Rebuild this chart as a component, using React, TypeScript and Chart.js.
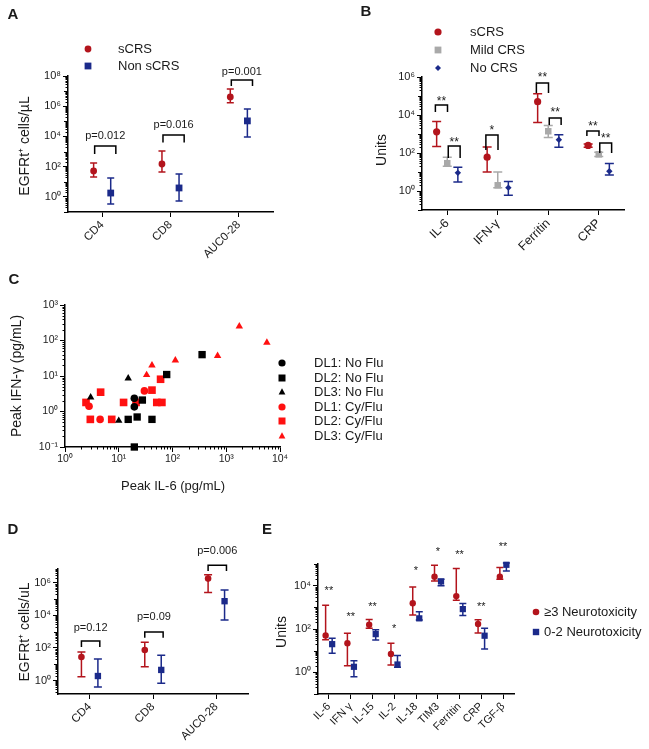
import React, { useEffect, useRef } from 'react';
import { Chart, registerables } from 'chart.js';

Chart.register(...registerables);

const FONT = "'Liberation Sans', Arial, Helvetica, sans-serif";
const RED = '#B3141C';
const BLUE = '#1B2A8A';
const GRAY = '#A9A9A9';
const CRED = '#FF1010';
const INK = '#1a1a1a';

// ---------- Panel A ----------
const catsA = ['CD4', 'CD8', 'AUC0-28'];
const aSevere = [52, 150, 4.1e6];
const aSevereLow = [21, 45, 1.7e6];
const aSevereHigh = [175, 1100, 1.4e7];
const aNon = [1.8, 3.9, 1.07e5];
const aNonLow = [0.34, 0.54, 9300];
const aNonHigh = [18, 33, 6.6e5];
const aPLabels = ['p=0.012', 'p=0.016', 'p=0.001'];
const aBracketTop = [2300, 12600, 5.5e7];
const aBracketLeg = [690, 3900, 2.2e7];
const aPTextY = [10700, 58000, 1.96e8];
const aTicks = [1, 1e2, 1e4, 1e6, 1e8];

// ---------- Panel B ----------
const catsB = ['IL-6', 'IFN-γ', 'Ferritin', 'CRP'];
const bSevere = [1300, 60, 50000, 250];
const bSevereLow = [220, 10, 4000, 200];
const bSevereHigh = [4500, 210, 130000, 300];
const bMild = [29, 2, 1400, 85];
const bMildLow = [20, 1.5, 650, 65];
const bMildHigh = [60, 10, 2800, 110];
const bNo = [9, 1.5, 500, 11];
const bNoLow = [3, 0.6, 200, 7];
const bNoHigh = [18, 3.2, 900, 28];
const bBracketCat = [0, 0, 1, 2, 2, 3, 3];
const bBracketPair = ['rm', 'mn', 'rm', 'rm', 'mn', 'rm', 'mn'];
const bBracketTop = [33700, 234, 890, 480000, 6900, 1440, 335];
const bBracketLeg = [14400, 55, 144, 144000, 2970, 780, 100];
const bBracketText = ['**', '**', '*', '**', '**', '**', '**'];
const bBracketTextY = [69000, 480, 2080, 1.27e6, 18300, 3360, 780];
const bTicks = [1, 1e2, 1e4, 1e6];

// ---------- Panel C ----------
const cDL1NoFlu = [[19.5, 2.35], [19.5, 1.35]];
const cDL2NoFlu = [[15, 0.6], [19.5, 0.1], [22, 0.7], [27.5, 2.1], [41.5, 0.6], [78, 11], [355, 40]];
const cDL3NoFlu = [[3.0, 2.5], [10, 0.55], [15, 8.6]];
const cDL1CyFlu = [[2.8, 1.4], [4.5, 0.6], [30, 3.8]];
const cDL2CyFlu = [[2.46, 1.8], [2.96, 0.6], [4.6, 3.5], [7.4, 0.6], [12.3, 1.8], [21, 1.8], [41.5, 4.0], [51, 1.8], [63.5, 1.8], [60, 8.1]];
const cDL3CyFlu = [[33, 10.7], [41.5, 20], [113, 27.5], [690, 37], [1750, 250], [5700, 87]];
const cGroupLabels = ['DL1: No Flu', 'DL2: No Flu', 'DL3: No Flu', 'DL1: Cy/Flu', 'DL2: Cy/Flu', 'DL3: Cy/Flu'];
const cXTicks = [1, 10, 100, 1000, 10000];
const cYTicks = [0.1, 1, 10, 100, 1000];

// ---------- Panel D ----------
const catsD = ['CD4', 'CD8', 'AUC0-28'];
const dSevere = [28, 75, 1.8e6];
const dSevereLow = [1.7, 7.1, 2.5e5];
const dSevereHigh = [57, 224, 3.1e6];
const dNon = [1.9, 4.5, 7.4e4];
const dNonLow = [0.41, 0.68, 5200];
const dNonHigh = [21, 36, 3.6e5];
const dPLabels = ['p=0.12', 'p=0.09', 'p=0.006'];
const dBracketTop = [270, 955, 1.2e7];
const dBracketLeg = [115, 430, 5.3e6];
const dPTextY = [1700, 8000, 9e7];
const dTicks = [1, 1e2, 1e4, 1e6];

// ---------- Panel E ----------
const catsE = ['IL-6', 'IFN γ', 'IL-15', 'IL-2', 'IL-18', 'TIM3', 'Ferritin', 'CRP', 'TGF-β'];
const eHigh3 = [50, 22, 156, 7, 1550, 25700, 3300, 170, 25600];
const eHigh3Low = [32, 2, 107, 2.2, 440, 16600, 2150, 65, 20000];
const eHigh3High = [1250, 63, 275, 22, 8700, 87000, 62000, 265, 69000];
const eLow02 = [20, 1.8, 58, 2.3, 310, 15600, 830, 49, 92000];
const eLow02Low = [7.5, 0.63, 31, 1.7, 257, 9800, 425, 12, 48000];
const eLow02High = [37, 3.4, 92, 6, 620, 20000, 1500, 107, 112000];
const eStars = ['**', '**', '**', '*', '*', '*', '**', '**', '**'];
const eStarY = [7600, 450, 1400, 130, 62000, 480000, 340000, 1300, 8e5];
const eTicks = [1, 1e2, 1e4];

// ---------- helpers ----------
const SUP = '⁰¹²³⁴⁵⁶⁷⁸⁹';
const sup = (n: number) => String(n).split('').map(c => (c === '-' ? '⁻' : SUP[+c])).join('');
const powLabel = (v: number) => '10' + sup(Math.round(Math.log10(v)));

function drawMarker(ctx: CanvasRenderingContext2D, style: string, x: number, y: number, r: number, color: string) {
  ctx.save();
  ctx.fillStyle = color;
  ctx.beginPath();
  if (style === 'circle') {
    ctx.arc(x, y, r, 0, Math.PI * 2);
  } else if (style === 'rect') {
    ctx.rect(x - r, y - r, 2 * r, 2 * r);
  } else if (style === 'triangle') {
    ctx.moveTo(x, y - r * 1.1);
    ctx.lineTo(x + r, y + r * 0.7);
    ctx.lineTo(x - r, y + r * 0.7);
    ctx.closePath();
  } else if (style === 'rectRot') {
    ctx.moveTo(x, y - r);
    ctx.lineTo(x + r, y);
    ctx.lineTo(x, y + r);
    ctx.lineTo(x - r, y);
    ctx.closePath();
  }
  ctx.fill();
  ctx.restore();
}

function drawText(
  ctx: CanvasRenderingContext2D, s: string, x: number, y: number, size: number,
  o: { align?: CanvasTextAlign; bold?: boolean; rotate?: boolean; baseline?: CanvasTextBaseline } = {}
) {
  ctx.save();
  ctx.font = `${o.bold ? 'bold ' : ''}${size}px ${FONT}`;
  ctx.fillStyle = INK;
  ctx.textAlign = o.align || 'center';
  ctx.textBaseline = o.baseline || 'middle';
  ctx.translate(x, y);
  if (o.rotate) ctx.rotate(-Math.PI / 2);
  ctx.fillText(s, 0, 0);
  ctx.restore();
}

function minorTicks(ctx: CanvasRenderingContext2D, scale: any, horizontal: boolean, majors: number[], edge: number) {
  const min = scale.min, max = scale.max;
  const d0 = Math.floor(Math.log10(min)), d1 = Math.ceil(Math.log10(max));
  ctx.save();
  ctx.strokeStyle = '#000';
  ctx.lineWidth = 1;
  for (let d = d0; d <= d1; d++) {
    for (let m = 1; m <= 9; m++) {
      const v = m * Math.pow(10, d);
      if (v < min * 0.9999 || v > max * 1.0001) continue;
      if (majors.some(mj => Math.abs(mj - v) / v < 1e-6)) continue;
      const len = m === 1 ? 4 : 2.5;
      const p = Math.round(scale.getPixelForValue(v)) + 0.5;
      ctx.beginPath();
      if (horizontal) { ctx.moveTo(p, edge); ctx.lineTo(p, edge + len); }
      else { ctx.moveTo(edge, p); ctx.lineTo(edge - len, p); }
      ctx.stroke();
    }
  }
  ctx.restore();
}

type Series = { values: number[]; low: number[]; high: number[]; offset: number; color: string; style: string; radius: number; cap: number };
type Bracket = { cat: number; from: number; to: number; top: number; leg: number; text: string; textY: number; star: boolean };
type LegendItem = { label: string; y: number; color: string; style: string; r: number };
type Plot = { l: number; t: number; r: number; b: number };

type CatPanel = {
  cats: string[];
  series: Series[];
  brackets: Bracket[];
  stars: { cat: number; text: string; y: number }[];
  yMin: number; yMax: number; majors: number[];
  plot: Plot;
  xFont: number; yFont: number; annFont: number; starFont: number;
  yTitle: { text: string; x: number; y: number; size: number };
  letter: { text: string; x: number; y: number };
  legend: { markerX: number; textX: number; size: number; items: LegendItem[] };
};

const W_AXIS = 60;
const H_AXIS = 55;

function axisCommon(fontSize: number) {
  return {
    grid: { drawOnChartArea: false, drawTicks: true, tickLength: 5, color: '#000', lineWidth: 1 },
    border: { display: true, color: '#000', width: 1.5 },
    ticks: { font: { size: fontSize, family: FONT }, color: INK },
  };
}

function catConfig(p: CatPanel): any {
  const datasets = p.series.map(s => ({
    type: 'scatter',
    data: s.values.map((v, i) => ({ x: i + s.offset, y: v })),
    pointStyle: s.style,
    pointRadius: s.radius,
    pointHoverRadius: s.radius,
    backgroundColor: s.color,
    borderColor: s.color,
    borderWidth: 0,
    clip: false,
    showLine: false,
  }));
  const plugin = {
    id: 'annotCat',
    beforeDatasetsDraw(chart: any) {
      const ctx = chart.ctx as CanvasRenderingContext2D;
      const xs = chart.scales.x, ys = chart.scales.y;
      ctx.save();
      ctx.lineWidth = 1.5;
      p.series.forEach(s => {
        ctx.strokeStyle = s.color;
        s.values.forEach((_, i) => {
          const x = xs.getPixelForValue(i + s.offset);
          const yl = ys.getPixelForValue(s.low[i]);
          const yh = ys.getPixelForValue(s.high[i]);
          ctx.beginPath();
          ctx.moveTo(x, yl); ctx.lineTo(x, yh);
          ctx.moveTo(x - s.cap, yl); ctx.lineTo(x + s.cap, yl);
          ctx.moveTo(x - s.cap, yh); ctx.lineTo(x + s.cap, yh);
          ctx.stroke();
        });
      });
      ctx.restore();
    },
    afterDraw(chart: any) {
      const ctx = chart.ctx as CanvasRenderingContext2D;
      const xs = chart.scales.x, ys = chart.scales.y;
      minorTicks(ctx, ys, false, p.majors, chart.chartArea.left);
      ctx.save();
      ctx.strokeStyle = '#000';
      ctx.lineWidth = 1.5;
      p.brackets.forEach(b => {
        const x1 = xs.getPixelForValue(b.cat + b.from);
        const x2 = xs.getPixelForValue(b.cat + b.to);
        const yt = ys.getPixelForValue(b.top);
        const yl = ys.getPixelForValue(b.leg);
        ctx.beginPath();
        ctx.moveTo(x1, yl); ctx.lineTo(x1, yt); ctx.lineTo(x2, yt); ctx.lineTo(x2, yl);
        ctx.stroke();
        const ty = ys.getPixelForValue(b.textY);
        if (b.star) drawText(ctx, b.text, (x1 + x2) / 2, ty + p.starFont * 0.5, p.starFont, { baseline: 'alphabetic' });
        else drawText(ctx, b.text, (x1 + x2) / 2, ty, p.annFont);
      });
      ctx.restore();
      p.stars.forEach(s => {
        const x = xs.getPixelForValue(s.cat);
        const y = ys.getPixelForValue(s.y);
        drawText(ctx, s.text, x, y + p.starFont * 0.5, p.starFont, { baseline: 'alphabetic' });
      });
      drawText(ctx, p.yTitle.text, p.yTitle.x, p.yTitle.y, p.yTitle.size, { rotate: true });
      drawText(ctx, p.letter.text, p.letter.x, p.letter.y, 15, { bold: true });
      p.legend.items.forEach(it => {
        drawMarker(ctx, it.style, p.legend.markerX, it.y, it.r, it.color);
        drawText(ctx, it.label, p.legend.textX, it.y, p.legend.size, { align: 'left' });
      });
    },
  };
  const xc = axisCommon(p.xFont);
  const yc = axisCommon(p.yFont);
  return {
    type: 'scatter',
    data: { datasets },
    plugins: [plugin],
    options: {
      responsive: false,
      animation: false,
      events: [],
      layout: { padding: { left: p.plot.l - W_AXIS, top: p.plot.t, right: 649 - p.plot.r, bottom: 749 - p.plot.b - H_AXIS } },
      plugins: { legend: { display: false }, tooltip: { enabled: false } },
      scales: {
        x: {
          type: 'linear', min: -0.5, max: p.cats.length - 0.5,
          afterBuildTicks: (s: any) => { s.ticks = p.cats.map((_, i) => ({ value: i })); },
          afterFit: (s: any) => { s.height = H_AXIS; },
          grid: xc.grid, border: xc.border,
          ticks: { ...xc.ticks, callback: (v: any) => p.cats[Math.round(v)] ?? '', minRotation: 45, maxRotation: 45, autoSkip: false, padding: 1 },
        },
        y: {
          type: 'logarithmic', min: p.yMin, max: p.yMax,
          afterBuildTicks: (s: any) => { s.ticks = p.majors.map(v => ({ value: v, major: true })); },
          afterFit: (s: any) => { s.width = W_AXIS; },
          grid: yc.grid, border: yc.border,
          ticks: { ...yc.ticks, callback: (v: any) => powLabel(v), autoSkip: false, padding: 2 },
        },
      },
    },
  };
}

const toPts = (arr: number[][]) => arr.map(([x, y]) => ({ x, y }));

function scatterConfigC(): any {
  const plot: Plot = { l: 65, t: 305, r: 280, b: 447 };
  const groups = [
    { data: cDL1NoFlu, color: '#000', style: 'circle', r: 3.8, lr: 3.6 },
    { data: cDL2NoFlu, color: '#000', style: 'rect', r: 5.2, lr: 3.5 },
    { data: cDL3NoFlu, color: '#000', style: 'triangle', r: 4.3, lr: 3.4 },
    { data: cDL1CyFlu, color: CRED, style: 'circle', r: 3.8, lr: 3.6 },
    { data: cDL2CyFlu, color: CRED, style: 'rect', r: 5.4, lr: 3.5 },
    { data: cDL3CyFlu, color: CRED, style: 'triangle', r: 4.3, lr: 3.4 },
  ];
  const legendY = [363, 378, 392, 407, 421, 436];
  const datasets = groups.map(g => ({
    type: 'scatter',
    data: toPts(g.data),
    pointStyle: g.style,
    pointRadius: g.r,
    pointHoverRadius: g.r,
    backgroundColor: g.color,
    borderColor: g.color,
    borderWidth: 0,
    clip: false,
  }));
  const plugin = {
    id: 'annotC',
    afterDraw(chart: any) {
      const ctx = chart.ctx as CanvasRenderingContext2D;
      const ca = chart.chartArea;
      minorTicks(ctx, chart.scales.y, false, cYTicks, ca.left);
      minorTicks(ctx, chart.scales.x, true, cXTicks, ca.bottom);
      drawText(ctx, 'Peak IFN-γ (pg/mL)', 17, 376, 14, { rotate: true });
      drawText(ctx, 'Peak IL-6 (pg/mL)', 173, 486, 13);
      drawText(ctx, 'C', 14, 280, 15, { bold: true });
      groups.forEach((g, i) => {
        drawMarker(ctx, g.style, 282, legendY[i], g.lr, g.color);
        drawText(ctx, cGroupLabels[i], 314, legendY[i], 13, { align: 'left' });
      });
    },
  };
  const c = axisCommon(10.5);
  return {
    type: 'scatter',
    data: { datasets },
    plugins: [plugin],
    options: {
      responsive: false,
      animation: false,
      events: [],
      layout: { padding: { left: plot.l - W_AXIS, top: plot.t, right: 649 - plot.r, bottom: 749 - plot.b - H_AXIS } },
      plugins: { legend: { display: false }, tooltip: { enabled: false } },
      scales: {
        x: {
          type: 'logarithmic', min: 1, max: 10000,
          afterBuildTicks: (s: any) => { s.ticks = cXTicks.map(v => ({ value: v, major: true })); },
          afterFit: (s: any) => { s.height = H_AXIS; },
          grid: c.grid, border: c.border,
          ticks: { ...c.ticks, callback: (v: any) => powLabel(v), maxRotation: 0, minRotation: 0, autoSkip: false, padding: 1 },
        },
        y: {
          type: 'logarithmic', min: 0.1, max: 1000,
          afterBuildTicks: (s: any) => { s.ticks = cYTicks.map(v => ({ value: v, major: true })); },
          afterFit: (s: any) => { s.width = W_AXIS; },
          grid: c.grid, border: c.border,
          ticks: { ...c.ticks, callback: (v: any) => powLabel(v), autoSkip: false, padding: 2 },
        },
      },
    },
  };
}

function configA() {
  return catConfig({
    cats: catsA,
    series: [
      { values: aSevere, low: aSevereLow, high: aSevereHigh, offset: -0.125, color: RED, style: 'circle', radius: 3.4, cap: 3.5 },
      { values: aNon, low: aNonLow, high: aNonHigh, offset: 0.125, color: BLUE, style: 'rect', radius: 4.8, cap: 3.5 },
    ],
    brackets: catsA.map((_, i) => ({ cat: i, from: -0.11, to: 0.2, top: aBracketTop[i], leg: aBracketLeg[i], text: aPLabels[i], textY: aPTextY[i], star: false })),
    stars: [],
    yMin: 0.1, yMax: 1e8, majors: aTicks,
    plot: { l: 68, t: 76, r: 273, b: 212 },
    xFont: 11.5, yFont: 11, annFont: 11, starFont: 12,
    yTitle: { text: 'EGFRt⁺ cells/µL', x: 25, y: 146, size: 14 },
    letter: { text: 'A', x: 13, y: 15 },
    legend: {
      markerX: 88, textX: 118, size: 13,
      items: [
        { label: 'sCRS', y: 49, color: RED, style: 'circle', r: 3.4 },
        { label: 'Non sCRS', y: 66, color: BLUE, style: 'rect', r: 3.4 },
      ],
    },
  });
}

function configB() {
  const pairs: Record<string, [number, number]> = { rm: [-0.235, 0.005], mn: [0.02, 0.255] };
  return catConfig({
    cats: catsB,
    series: [
      { values: bSevere, low: bSevereLow, high: bSevereHigh, offset: -0.21, color: RED, style: 'circle', radius: 3.6, cap: 4.5 },
      { values: bMild, low: bMildLow, high: bMildHigh, offset: 0, color: GRAY, style: 'rect', radius: 4.6, cap: 4.5 },
      { values: bNo, low: bNoLow, high: bNoHigh, offset: 0.21, color: BLUE, style: 'rectRot', radius: 3.2, cap: 4.5 },
    ],
    brackets: bBracketCat.map((c, i) => ({
      cat: c, from: pairs[bBracketPair[i]][0], to: pairs[bBracketPair[i]][1],
      top: bBracketTop[i], leg: bBracketLeg[i], text: bBracketText[i], textY: bBracketTextY[i], star: true,
    })),
    stars: [],
    yMin: 0.1, yMax: 1e6, majors: bTicks,
    plot: { l: 422, t: 77, r: 624, b: 210 },
    xFont: 12.5, yFont: 11, annFont: 11, starFont: 12,
    yTitle: { text: 'Units', x: 382, y: 150, size: 14 },
    letter: { text: 'B', x: 366, y: 12 },
    legend: {
      markerX: 438, textX: 470, size: 13,
      items: [
        { label: 'sCRS', y: 32, color: RED, style: 'circle', r: 3.6 },
        { label: 'Mild CRS', y: 50, color: GRAY, style: 'rect', r: 3.4 },
        { label: 'No CRS', y: 68, color: BLUE, style: 'rectRot', r: 3 },
      ],
    },
  });
}

function configD() {
  return catConfig({
    cats: catsD,
    series: [
      { values: dSevere, low: dSevereLow, high: dSevereHigh, offset: -0.13, color: RED, style: 'circle', radius: 3.3, cap: 4 },
      { values: dNon, low: dNonLow, high: dNonHigh, offset: 0.13, color: BLUE, style: 'rect', radius: 4.5, cap: 4 },
    ],
    brackets: catsD.map((_, i) => ({ cat: i, from: -0.13, to: 0.16, top: dBracketTop[i], leg: dBracketLeg[i], text: dPLabels[i], textY: dPTextY[i], star: false })),
    stars: [],
    yMin: 0.15, yMax: 7e6, majors: dTicks,
    plot: { l: 58, t: 569, r: 248, b: 694 },
    xFont: 11.5, yFont: 11, annFont: 11, starFont: 12,
    yTitle: { text: 'EGFRt⁺ cells/uL', x: 25, y: 632, size: 14 },
    letter: { text: 'D', x: 13, y: 530 },
    legend: { markerX: 0, textX: 0, size: 13, items: [] },
  });
}

function configE() {
  return catConfig({
    cats: catsE,
    series: [
      { values: eHigh3, low: eHigh3Low, high: eHigh3High, offset: -0.15, color: RED, style: 'circle', radius: 3.2, cap: 3.5 },
      { values: eLow02, low: eLow02Low, high: eLow02High, offset: 0.15, color: BLUE, style: 'rect', radius: 4.4, cap: 3.5 },
    ],
    brackets: [],
    stars: catsE.map((_, i) => ({ cat: i, text: eStars[i], y: eStarY[i] })),
    yMin: 0.1, yMax: 1e5, majors: eTicks,
    plot: { l: 318, t: 564, r: 514, b: 694 },
    xFont: 11, yFont: 11, annFont: 11, starFont: 11,
    yTitle: { text: 'Units', x: 282, y: 632, size: 14 },
    letter: { text: 'E', x: 267, y: 530 },
    legend: {
      markerX: 536, textX: 544, size: 13,
      items: [
        { label: '≥3 Neurotoxicity', y: 612, color: RED, style: 'circle', r: 3.3 },
        { label: '0-2 Neurotoxicity', y: 632, color: BLUE, style: 'rect', r: 3.2 },
      ],
    },
  });
}

export default function App() {
  const r0 = useRef<HTMLCanvasElement>(null);
  const r1 = useRef<HTMLCanvasElement>(null);
  const r2 = useRef<HTMLCanvasElement>(null);
  const r3 = useRef<HTMLCanvasElement>(null);
  const r4 = useRef<HTMLCanvasElement>(null);
  useEffect(() => {
    Chart.defaults.font.family = FONT;
    const refs = [r0, r1, r2, r3, r4];
    const builders = [configA, configB, scatterConfigC, configD, configE];
    const charts = builders.map((b, i) => new Chart(refs[i].current as HTMLCanvasElement, b()));
    return () => charts.forEach(c => c.destroy());
  }, []);
  const cs: React.CSSProperties = { position: 'absolute', left: 0, top: 0, width: 649, height: 749 };
  return (
    <div style={{ position: 'absolute', left: 0, top: 0, width: 649, height: 749, background: '#fff', overflow: 'hidden' }}>
      <canvas ref={r0} width={649} height={749} style={cs} />
      <canvas ref={r1} width={649} height={749} style={cs} />
      <canvas ref={r2} width={649} height={749} style={cs} />
      <canvas ref={r3} width={649} height={749} style={cs} />
      <canvas ref={r4} width={649} height={749} style={cs} />
    </div>
  );
}
